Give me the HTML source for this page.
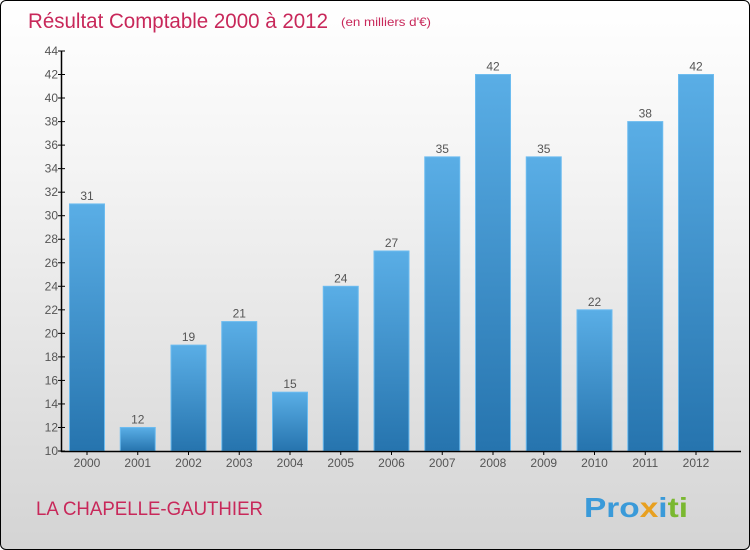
<!DOCTYPE html>
<html><head><meta charset="utf-8"><style>
body{margin:0;}
#wrap{position:relative;width:748px;height:548px;border:1px solid #000;border-radius:6px;overflow:hidden;background:linear-gradient(#ffffff,#f4f4f4 30%,#d4d4d4);font-family:"Liberation Sans",sans-serif;}
svg{position:absolute;left:0;top:0;}
</style></head><body>
<div id="wrap">
<svg id="c" width="750" height="550">
<defs><linearGradient id="g" x1="0" y1="0" x2="0" y2="1"><stop offset="0" stop-color="#5aaee6"/><stop offset="1" stop-color="#2674ae"/></linearGradient></defs>
<text x="27" y="27" font-size="21" fill="#c8285a" textLength="300" lengthAdjust="spacingAndGlyphs">Résultat Comptable 2000 à 2012</text>
<text x="340" y="25" font-size="12" fill="#c8285a" textLength="90" lengthAdjust="spacingAndGlyphs">(en milliers d'€)</text>
<text x="35" y="514" font-size="19" fill="#c8285a" textLength="227" lengthAdjust="spacingAndGlyphs">LA CHAPELLE-GAUTHIER</text>
<text x="583" y="516" font-size="28" font-weight="bold" textLength="104" lengthAdjust="spacingAndGlyphs" fill="#3a9ad9"><tspan fill="#3a9ad9">Pro</tspan><tspan fill="#e8a020">x</tspan><tspan fill="#3a9ad9">i</tspan><tspan fill="#7ab830">ti</tspan></text>
</svg></div>
<script>
const years=["2000","2001","2002","2003","2004","2005","2006","2007","2008","2009","2010","2011","2012"];
const values=[31,12,19,21,15,24,27,35,42,35,22,38,42];
const ticks=[10,12,14,16,18,20,22,24,26,28,30,32,34,36,38,40,42,44];
const svg=document.getElementById('c');const NS='http://www.w3.org/2000/svg';
const y=v=>450-(v-10)*400/34;
const x=i=>86+i*50.75;
function mk(t,a){const e=document.createElementNS(NS,t);for(const k in a)e.setAttribute(k,a[k]);svg.appendChild(e);return e;}
values.forEach((v,i)=>{
const r=mk('rect',{x:x(i)-17.5,y:y(v),width:35,height:450-y(v),fill:'url(#g)',stroke:'#6cbcf0','stroke-width':1});


const t=mk('text',{x:x(i),y:y(v)-4,'font-size':12,fill:'#555','text-anchor':'middle'});t.textContent=v;


const l=mk('text',{x:x(i),y:466,'font-size':12,fill:'#555','text-anchor':'middle'});l.textContent=years[i];


mk('line',{x1:x(i),x2:x(i),y1:450,y2:454,stroke:'#000'});
});
ticks.forEach(v=>{
mk('line',{x1:57,x2:64,y1:y(v),y2:y(v),stroke:'#000'});
const t=mk('text',{x:57,y:y(v)+4,'font-size':12,fill:'#555','text-anchor':'end'});t.textContent=v;


});
const ax=mk('line',{x1:60.5,x2:60.5,y1:50,y2:451,stroke:'#000','stroke-width':1.5});


const xa=mk('line',{x1:60,x2:740,y1:450.5,y2:450.5,stroke:'#000','stroke-width':1.5});


</script>
</body></html>
